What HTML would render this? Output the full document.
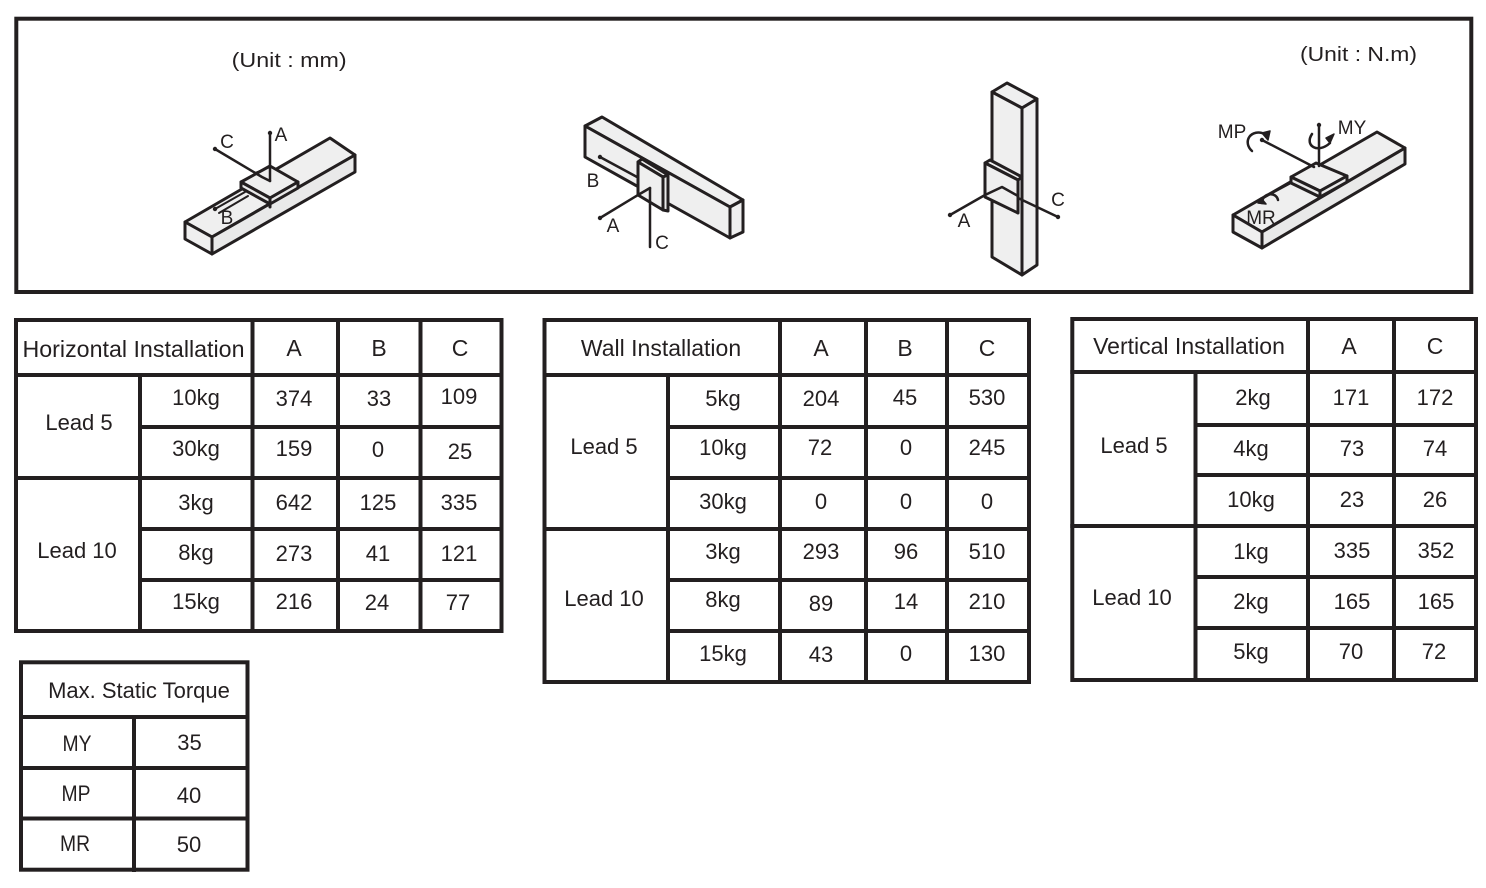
<!DOCTYPE html>
<html>
<head>
<meta charset="utf-8">
<style>
html,body{margin:0;padding:0;background:#fff;}
body{width:1486px;height:888px;overflow:hidden;}
svg{display:block;}
text{font-family:"Liberation Sans",sans-serif;fill:#231f20;}
.t{font-size:22px;text-anchor:middle;}
.h{font-size:23px;text-anchor:middle;}
.l{font-size:19px;text-anchor:middle;}
</style>
</head>
<body>
<svg width="1486" height="888" viewBox="0 0 1486 888" xmlns="http://www.w3.org/2000/svg">
<rect x="0" y="0" width="1486" height="888" fill="#fff"/>

<!-- Top box -->
<rect x="16.3" y="18.7" width="1455" height="273.3" fill="none" stroke="#231f20" stroke-width="4"/>
<text x="231.7" y="67" font-size="20" textLength="115" lengthAdjust="spacingAndGlyphs">(Unit : mm)</text>
<text x="1300" y="61" font-size="20" textLength="117" lengthAdjust="spacingAndGlyphs">(Unit : N.m)</text>

<g stroke="#231f20" stroke-width="3" stroke-linejoin="round" stroke-linecap="round">
<!-- Drawing 1: horizontal -->
<path d="M185,222 L330,138 L355,155 L212,237 Z" fill="#efefef"/>
<path d="M212,237 L355,155 L355,172 L212,254 Z" fill="#e9e9e9"/>
<path d="M185,222 L212,237 L212,254 L185,239 Z" fill="#efefef"/>
<path d="M215,209 L245,192" fill="none" stroke-width="2"/>
<path d="M219,213 L248,196" fill="none" stroke-width="2"/>
<path d="M241,182 L270,166 L298,182 L270,198 Z" fill="#efefef"/>
<path d="M241,182 L270,198 L270,204 L241,188 Z" fill="#e9e9e9"/>
<path d="M270,198 L298,182 L298,188 L270,204 Z" fill="#e9e9e9"/>
<path d="M270,204 L270,207" fill="none"/>
<path d="M270,133 L270,181" fill="none" stroke-width="2.5"/>
<path d="M215,149 L262,177 L270,181" fill="none" stroke-width="2.5"/>
<path d="M255,173 L270,167" fill="none" stroke-width="2"/>

<!-- Drawing 2: wall -->
<path d="M585,126 L602,117 L743,200 L730,207 Z" fill="#efefef"/>
<path d="M585,126 L730,207 L730,238 L585,157 Z" fill="#efefef"/>
<path d="M730,207 L743,200 L743,232 L730,238 Z" fill="#efefef"/>
<path d="M600,157 L637,177" fill="none" stroke-width="2.5"/>
<path d="M638,162 L642,159 L668,175 L663,177 Z" fill="#efefef"/>
<path d="M638,162 L663,177 L663,210 L638,195 Z" fill="#efefef"/>
<path d="M663,177 L668,175 L668,211 L663,210 Z" fill="#e9e9e9"/>
<path d="M600,218 L638,195 L650,188" fill="none" stroke-width="2.5"/>
<path d="M650,188 L650,247" fill="none" stroke-width="2.5"/>

<!-- Drawing 3: vertical -->
<path d="M992,92 L1007,83 L1037,99 L1022,108 Z" fill="#efefef"/>
<path d="M992,92 L1022,108 L1022,275 L992,257 Z" fill="#efefef"/>
<path d="M1022,108 L1037,99 L1037,265 L1022,275 Z" fill="#efefef"/>
<path d="M985,163 L990,160 L1022,177 L1018,180 Z" fill="#efefef"/>
<path d="M985,163 L1018,180 L1018,213 L985,197 Z" fill="#efefef"/>
<path d="M950,215 L985,195 L1002,187 L1018,196" fill="none" stroke-width="2.5"/>
<path d="M1058,217 L1018,198" fill="none" stroke-width="2.5"/>

<!-- Drawing 4: torque -->
<path d="M1233,215 L1377,132 L1405,148 L1262,232 Z" fill="#efefef"/>
<path d="M1262,232 L1405,148 L1405,164 L1262,248 Z" fill="#e9e9e9"/>
<path d="M1233,215 L1262,232 L1262,248 L1233,232 Z" fill="#efefef"/>
<path d="M1263,198 L1291,183" fill="none" stroke-width="2"/>
<path d="M1291,177 L1316,163 L1347,176 L1320,191 Z" fill="#efefef"/>
<path d="M1291,177 L1320,191 L1320,197 L1291,183 Z" fill="#e9e9e9"/>
<path d="M1320,191 L1347,176 L1347,182 L1320,197 Z" fill="#e9e9e9"/>
<path d="M1262,140 L1314,167" fill="none" stroke-width="2.5"/>
<path d="M1319,125 L1319,166" fill="none" stroke-width="2.5"/>
<path d="M1252,151 C1243,143 1249,130 1262,133" fill="none" stroke-width="2.5"/>
<path d="M1262,133 L1268,140 L1270,131 Z" fill="#231f20" stroke-width="1.5"/>
<path d="M1312,134 C1304,146 1318,154 1330,143" fill="none" stroke-width="2.5"/>
<path d="M1330,143 L1334,134 L1326,138 Z" fill="#231f20" stroke-width="1.5"/>
<path d="M1262,203 C1262,193 1276,191 1278,200" fill="none" stroke-width="2.5"/>
<path d="M1258,203 L1266,204 L1261,198 Z" fill="#231f20" stroke-width="1.5"/>
</g>
<g fill="#231f20">
<circle cx="270" cy="133" r="2.2"/>
<circle cx="215" cy="149" r="2.2"/>
<circle cx="215" cy="209" r="2.2"/>
<circle cx="600" cy="157" r="2.2"/>
<circle cx="600" cy="218" r="2.2"/>
<circle cx="950" cy="215" r="2.2"/>
<circle cx="1058" cy="217" r="2.2"/>
<circle cx="1262" cy="140" r="2.2"/>
<circle cx="1319" cy="125" r="2.2"/>
</g>
<text class="l" x="281" y="141">A</text>
<text class="l" x="227" y="148">C</text>
<text class="l" x="227" y="224">B</text>
<text class="l" x="593" y="187">B</text>
<text class="l" x="613" y="232">A</text>
<text class="l" x="662" y="249">C</text>
<text class="l" x="964" y="227">A</text>
<text class="l" x="1058" y="206">C</text>
<text class="l" x="1232" y="138">MP</text>
<text class="l" x="1352" y="134">MY</text>
<text class="l" x="1261" y="224">MR</text>

<!-- Table lines -->
<g stroke="#231f20" stroke-width="4" fill="none" stroke-linecap="square">
<!-- Horizontal table -->
<rect x="16" y="320" width="485.5" height="311"/>
<line x1="140" y1="375" x2="140" y2="631"/>
<line x1="252.5" y1="320" x2="252.5" y2="631"/>
<line x1="338" y1="320" x2="338" y2="631"/>
<line x1="420.5" y1="320" x2="420.5" y2="631"/>
<line x1="16" y1="375" x2="501.5" y2="375"/>
<line x1="16" y1="478" x2="501.5" y2="478"/>
<line x1="140" y1="427" x2="501.5" y2="427"/>
<line x1="140" y1="529" x2="501.5" y2="529"/>
<line x1="140" y1="580" x2="501.5" y2="580"/>
<!-- Wall table -->
<rect x="544.5" y="320" width="484.5" height="362"/>
<line x1="668" y1="375" x2="668" y2="682"/>
<line x1="780" y1="320" x2="780" y2="682"/>
<line x1="866" y1="320" x2="866" y2="682"/>
<line x1="947" y1="320" x2="947" y2="682"/>
<line x1="544.5" y1="375" x2="1029" y2="375"/>
<line x1="544.5" y1="529" x2="1029" y2="529"/>
<line x1="668" y1="427" x2="1029" y2="427"/>
<line x1="668" y1="478" x2="1029" y2="478"/>
<line x1="668" y1="580" x2="1029" y2="580"/>
<line x1="668" y1="631" x2="1029" y2="631"/>
<!-- Vertical table -->
<rect x="1072.3" y="319" width="403.7" height="361"/>
<line x1="1195.5" y1="372" x2="1195.5" y2="680"/>
<line x1="1308" y1="319" x2="1308" y2="680"/>
<line x1="1394" y1="319" x2="1394" y2="680"/>
<line x1="1072.3" y1="372" x2="1476" y2="372"/>
<line x1="1072.3" y1="526" x2="1476" y2="526"/>
<line x1="1195.5" y1="425" x2="1476" y2="425"/>
<line x1="1195.5" y1="475" x2="1476" y2="475"/>
<line x1="1195.5" y1="577" x2="1476" y2="577"/>
<line x1="1195.5" y1="628" x2="1476" y2="628"/>
<!-- Torque table -->
<rect x="21" y="662.3" width="226.5" height="207.4"/>
<line x1="134" y1="717" x2="134" y2="870"/>
<line x1="21" y1="717" x2="247.5" y2="717"/>
<line x1="21" y1="768" x2="247.5" y2="768"/>
<line x1="21" y1="818.5" x2="247.5" y2="818.5"/>
</g>

<!-- Horizontal table text -->
<text class="h" x="133.5" y="357" textLength="222" lengthAdjust="spacingAndGlyphs">Horizontal Installation</text>
<text class="h" x="294" y="356">A</text>
<text class="h" x="379" y="356">B</text>
<text class="h" x="460" y="356">C</text>
<text class="t" x="79" y="430">Lead 5</text>
<text class="t" x="77" y="558">Lead 10</text>
<text class="t" x="196" y="405">10kg</text>
<text class="t" x="294" y="406">374</text>
<text class="t" x="379" y="406">33</text>
<text class="t" x="459" y="404">109</text>
<text class="t" x="196" y="456">30kg</text>
<text class="t" x="294" y="456">159</text>
<text class="t" x="378" y="457">0</text>
<text class="t" x="460" y="459">25</text>
<text class="t" x="196" y="510">3kg</text>
<text class="t" x="294" y="510">642</text>
<text class="t" x="378" y="510">125</text>
<text class="t" x="459" y="510">335</text>
<text class="t" x="196" y="560">8kg</text>
<text class="t" x="294" y="561">273</text>
<text class="t" x="378" y="561">41</text>
<text class="t" x="459" y="561">121</text>
<text class="t" x="196" y="609">15kg</text>
<text class="t" x="294" y="609">216</text>
<text class="t" x="377" y="610">24</text>
<text class="t" x="458" y="610">77</text>

<!-- Wall table text -->
<text class="h" x="661" y="356">Wall Installation</text>
<text class="h" x="821" y="356">A</text>
<text class="h" x="905" y="356">B</text>
<text class="h" x="987" y="356">C</text>
<text class="t" x="604" y="454">Lead 5</text>
<text class="t" x="604" y="606">Lead 10</text>
<text class="t" x="723" y="406">5kg</text>
<text class="t" x="821" y="406">204</text>
<text class="t" x="905" y="405">45</text>
<text class="t" x="987" y="405">530</text>
<text class="t" x="723" y="455">10kg</text>
<text class="t" x="820" y="455">72</text>
<text class="t" x="906" y="455">0</text>
<text class="t" x="987" y="455">245</text>
<text class="t" x="723" y="509">30kg</text>
<text class="t" x="821" y="509">0</text>
<text class="t" x="906" y="509">0</text>
<text class="t" x="987" y="509">0</text>
<text class="t" x="723" y="559">3kg</text>
<text class="t" x="821" y="559">293</text>
<text class="t" x="906" y="559">96</text>
<text class="t" x="987" y="559">510</text>
<text class="t" x="723" y="607">8kg</text>
<text class="t" x="821" y="611">89</text>
<text class="t" x="906" y="609">14</text>
<text class="t" x="987" y="609">210</text>
<text class="t" x="723" y="661">15kg</text>
<text class="t" x="821" y="662">43</text>
<text class="t" x="906" y="661">0</text>
<text class="t" x="987" y="661">130</text>

<!-- Vertical table text -->
<text class="h" x="1189" y="354">Vertical Installation</text>
<text class="h" x="1349" y="354">A</text>
<text class="h" x="1435" y="354">C</text>
<text class="t" x="1134" y="453">Lead 5</text>
<text class="t" x="1132" y="605">Lead 10</text>
<text class="t" x="1253" y="405">2kg</text>
<text class="t" x="1351" y="405">171</text>
<text class="t" x="1435" y="405">172</text>
<text class="t" x="1251" y="456">4kg</text>
<text class="t" x="1352" y="456">73</text>
<text class="t" x="1435" y="456">74</text>
<text class="t" x="1251" y="507">10kg</text>
<text class="t" x="1352" y="507">23</text>
<text class="t" x="1435" y="507">26</text>
<text class="t" x="1251" y="559">1kg</text>
<text class="t" x="1352" y="558">335</text>
<text class="t" x="1436" y="558">352</text>
<text class="t" x="1251" y="609">2kg</text>
<text class="t" x="1352" y="609">165</text>
<text class="t" x="1436" y="609">165</text>
<text class="t" x="1251" y="659">5kg</text>
<text class="t" x="1351" y="659">70</text>
<text class="t" x="1434" y="659">72</text>

<!-- Torque table text -->
<text class="t" x="139" y="698">Max. Static Torque</text>
<text class="t" x="77" y="751" textLength="29" lengthAdjust="spacingAndGlyphs">MY</text>
<text class="t" x="189.5" y="750">35</text>
<text class="t" x="76" y="801" textLength="29" lengthAdjust="spacingAndGlyphs">MP</text>
<text class="t" x="189" y="803">40</text>
<text class="t" x="75" y="851" textLength="30" lengthAdjust="spacingAndGlyphs">MR</text>
<text class="t" x="189" y="852">50</text>
</svg>
</body>
</html>
